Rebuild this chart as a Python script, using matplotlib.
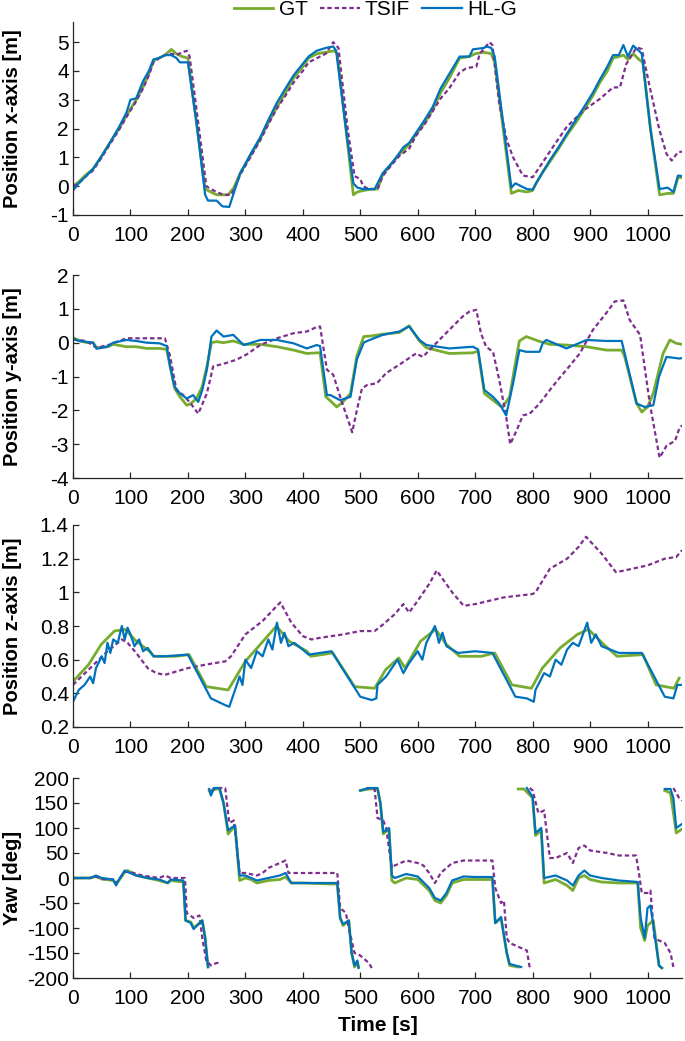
import numpy as np
import matplotlib
matplotlib.use("Agg")
import matplotlib.pyplot as plt
from matplotlib.ticker import FuncFormatter

plt.rcParams['font.family'] = ['Liberation Sans', 'DejaVu Sans']

# time axis
t_max = 1060
x_ticks = list(range(0, 1001, 100))

# ---- position x [m] ----
x_gt = [(0, 0.0), (10, 0.15), (20, 0.35), (35, 0.6), (50, 1.05), (64, 1.5), (80, 2.0), (93, 2.45),
        (110, 3.0), (122, 3.45), (132, 3.9), (140, 4.35), (150, 4.45), (160, 4.55), (171, 4.75),
        (180, 4.6), (190, 4.5), (200, 4.45), (215, 2.2), (230, -0.1), (240, -0.2), (250, -0.3),
        (270, -0.3), (280, -0.05), (291, 0.45), (310, 1.1), (326, 1.65), (340, 2.2), (355, 2.75),
        (370, 3.25), (384, 3.75), (400, 4.15), (410, 4.45), (425, 4.6), (440, 4.65), (455, 4.7),
        (460, 4.6), (475, 2.0), (488, -0.3), (495, -0.2), (505, -0.15), (520, -0.1), (530, -0.1),
        (539, 0.4), (555, 0.8), (568, 1.1), (585, 1.45), (597, 1.8), (612, 2.2), (626, 2.65),
        (640, 3.25), (655, 3.75), (673, 4.45), (690, 4.5), (700, 4.6), (715, 4.65), (728, 4.6),
        (734, 4.3), (750, 1.8), (763, -0.25), (775, -0.15), (790, -0.2), (800, -0.15), (806, 0.1),
        (818, 0.5), (830, 0.85), (845, 1.3), (859, 1.75), (875, 2.2), (888, 2.6), (905, 3.15),
        (917, 3.6), (930, 4.0), (940, 4.45), (950, 4.5), (958, 4.55), (966, 4.4), (975, 4.6),
        (985, 4.4), (992, 4.3), (1005, 2.0), (1021, -0.3), (1035, -0.25), (1045, -0.25),
        (1053, 0.3), (1060, 0.3)]
x_tsif = [(0, 0.0), (10, 0.1), (20, 0.3), (35, 0.55), (50, 1.0), (64, 1.45), (80, 1.95), (93, 2.4),
          (110, 2.95), (122, 3.4), (132, 3.85), (140, 4.3), (150, 4.45), (160, 4.55), (171, 4.6),
          (180, 4.55), (190, 4.65), (198, 4.7), (203, 4.5), (218, 2.2), (232, 0.0), (240, -0.1),
          (250, -0.2), (262, -0.3), (275, -0.3), (282, -0.05), (291, 0.4), (310, 1.05), (326, 1.6),
          (340, 2.15), (355, 2.7), (370, 3.15), (384, 3.6), (400, 4.0), (410, 4.3), (425, 4.45),
          (440, 4.6), (453, 5.0), (462, 4.8), (478, 2.0), (490, 0.35), (500, 0.25), (505, 0.0),
          (515, -0.1), (530, -0.1), (539, 0.35), (555, 0.75), (568, 1.05), (585, 1.3), (597, 1.75),
          (612, 2.15), (626, 2.6), (640, 3.05), (655, 3.4), (673, 3.95), (685, 4.1), (702, 4.15),
          (708, 4.6), (725, 5.0), (730, 4.9), (742, 2.85), (755, 1.6), (766, 1.0), (783, 0.37),
          (800, 0.31), (812, 0.66), (835, 1.35), (859, 2.05), (888, 2.62), (917, 3.03), (940, 3.43),
          (952, 3.43), (963, 4.24), (981, 4.82), (990, 4.76), (1004, 3.43), (1021, 1.93),
          (1033, 1.12), (1042, 0.89), (1053, 1.18), (1060, 1.2)]
x_hlg = [(0, -0.15), (10, 0.1), (20, 0.3), (35, 0.6), (50, 1.05), (64, 1.5), (80, 2.05), (93, 2.55),
         (100, 3.0), (110, 3.05), (122, 3.65), (132, 4.0), (140, 4.4), (150, 4.45), (160, 4.55),
         (171, 4.55), (180, 4.45), (186, 4.3), (200, 4.3), (215, 2.2), (230, -0.3), (235, -0.5),
         (250, -0.5), (260, -0.7), (272, -0.72), (282, -0.1), (291, 0.45), (310, 1.15), (326, 1.7),
         (340, 2.3), (355, 2.9), (370, 3.4), (384, 3.85), (400, 4.25), (410, 4.5), (424, 4.7),
         (440, 4.8), (453, 4.85), (458, 4.7), (475, 2.0), (488, 0.1), (495, -0.05), (505, -0.1),
         (525, -0.1), (539, 0.45), (555, 0.8), (568, 1.15), (575, 1.35), (585, 1.5), (597, 1.85),
         (612, 2.3), (626, 2.75), (640, 3.4), (655, 3.9), (673, 4.5), (690, 4.5), (696, 4.75),
         (715, 4.8), (720, 4.85), (728, 4.8), (734, 4.5), (750, 2.0), (763, -0.05), (770, 0.1),
         (780, 0.0), (790, -0.1), (800, -0.12), (806, 0.1), (818, 0.5), (830, 0.9), (845, 1.35),
         (859, 1.8), (875, 2.3), (888, 2.7), (905, 3.25), (917, 3.7), (930, 4.15), (940, 4.55),
         (950, 4.55), (958, 4.9), (966, 4.5), (975, 4.88), (985, 4.7), (990, 4.6), (1005, 2.0),
         (1021, -0.1), (1035, -0.05), (1045, -0.2), (1053, 0.37), (1060, 0.35)]

# ---- position y [m] ----
y_gt = [(0, 0.15), (12, 0.05), (25, 0.0), (35, 0.0), (41, -0.15), (60, -0.12), (70, -0.05),
        (93, -0.12), (110, -0.12), (128, -0.17), (151, -0.17), (163, -0.2), (169, -0.7),
        (177, -1.35), (186, -1.6), (198, -1.85), (205, -1.8), (215, -1.65), (225, -1.3), (233, -0.7),
        (241, 0.0), (250, 0.03), (262, 0.0), (279, 0.05), (297, -0.05), (326, -0.05), (355, -0.12),
        (384, -0.22), (407, -0.32), (424, -0.3), (430, -0.3), (440, -1.6), (450, -1.75), (459, -1.9),
        (470, -1.75), (483, -1.5), (494, -0.4), (506, 0.18), (520, 0.2), (539, 0.25), (568, 0.3),
        (585, 0.5), (603, 0.05), (615, -0.15), (655, -0.32), (696, -0.3), (705, -0.25), (716, -1.5),
        (731, -1.7), (742, -1.85), (748, -1.9), (760, -1.6), (770, -0.6), (777, 0.05), (789, 0.18),
        (810, 0.05), (830, -0.05), (859, -0.07), (894, -0.12), (928, -0.22), (955, -0.22),
        (960, -0.4), (981, -1.8), (990, -2.05), (1000, -1.9), (1010, -1.5), (1027, -0.32),
        (1039, 0.08), (1050, -0.02), (1060, -0.05)]
y_tsif = [(0, 0.1), (23, 0.05), (41, -0.15), (60, -0.08), (93, 0.13), (128, 0.13), (151, 0.13),
          (160, 0.13), (169, -0.4), (180, -1.4), (192, -1.55), (205, -1.8), (218, -2.1), (233, -1.5),
          (244, -0.7), (256, -0.65), (267, -0.6), (285, -0.5), (302, -0.35), (326, -0.07), (355, 0.13),
          (384, 0.28), (407, 0.33), (424, 0.46), (430, 0.48), (442, -0.8), (453, -0.95), (465, -1.6),
          (477, -2.2), (486, -2.65), (494, -2.0), (503, -1.35), (512, -1.25), (529, -1.2),
          (545, -0.9), (568, -0.65), (597, -0.32), (609, -0.42), (626, -0.12), (655, 0.38),
          (678, 0.77), (690, 0.92), (702, 0.97), (710, 0.28), (719, -0.12), (731, -0.27),
          (742, -1.1), (754, -2.2), (761, -3.0), (772, -2.6), (783, -2.15), (795, -2.1), (812, -1.8),
          (830, -1.4), (844, -1.1), (859, -0.8), (882, -0.32), (905, 0.38), (928, 0.87), (943, 1.22),
          (958, 1.25), (969, 0.67), (987, 0.23), (1004, -1.8), (1021, -3.4), (1033, -3.05),
          (1048, -2.9), (1056, -2.5), (1060, -2.45)]
y_hlg = [(0, 0.1), (12, 0.05), (25, 0.02), (35, 0.0), (41, -0.18), (60, -0.12), (70, 0.0), (93, 0.08),
         (110, 0.05), (128, 0.0), (151, -0.02), (163, -0.1), (169, -0.7), (177, -1.3), (186, -1.5),
         (198, -1.65), (209, -1.55), (218, -1.75), (225, -1.4), (233, -0.8), (241, 0.18), (250, 0.36),
         (262, 0.18), (279, 0.23), (297, -0.07), (326, 0.08), (355, 0.08), (384, -0.02), (407, -0.17),
         (424, -0.07), (430, -0.1), (442, -1.55), (448, -1.55), (465, -1.7), (483, -1.6), (494, -0.5),
         (506, 0.0), (512, 0.05), (539, 0.23), (568, 0.33), (585, 0.48), (603, 0.08), (615, -0.07),
         (655, -0.17), (696, -0.12), (705, -0.2), (716, -1.4), (731, -1.6), (742, -1.8), (754, -2.15),
         (766, -1.2), (777, -0.22), (789, -0.27), (812, -0.27), (818, 0.0), (824, 0.08), (859, -0.17),
         (894, 0.08), (928, 0.05), (955, 0.05), (960, -0.3), (981, -1.8), (995, -1.9), (1010, -1.85),
         (1020, -1.0), (1033, -0.42), (1056, -0.47), (1060, -0.45)]

# ---- position z [m] ----
z_gt = [(0, 0.47), (27, 0.57), (49, 0.69), (72, 0.77), (91, 0.78), (110, 0.71), (133, 0.65),
        (141, 0.62), (179, 0.62), (202, 0.63), (232, 0.44), (270, 0.42), (300, 0.59), (331, 0.71),
        (354, 0.8), (376, 0.71), (407, 0.65), (414, 0.62), (452, 0.64), (490, 0.44), (525, 0.43),
        (544, 0.54), (567, 0.61), (578, 0.55), (605, 0.71), (631, 0.78), (650, 0.69), (673, 0.62),
        (711, 0.62), (734, 0.64), (764, 0.45), (798, 0.43), (817, 0.55), (848, 0.67), (878, 0.75),
        (897, 0.78), (924, 0.69), (947, 0.62), (992, 0.63), (1015, 0.45), (1046, 0.43), (1055, 0.49)]
z_tsif = [(0, 0.45), (30, 0.55), (60, 0.65), (85, 0.72), (95, 0.7), (110, 0.64), (130, 0.55),
          (145, 0.52), (160, 0.51), (200, 0.55), (230, 0.57), (265, 0.59), (275, 0.62), (300, 0.75),
          (330, 0.83), (355, 0.92), (361, 0.94), (380, 0.82), (400, 0.74), (415, 0.72), (430, 0.73),
          (470, 0.75), (500, 0.77), (525, 0.77), (540, 0.81), (560, 0.87), (575, 0.93), (585, 0.88),
          (600, 0.95), (620, 1.05), (633, 1.13), (660, 1.0), (680, 0.92), (700, 0.93), (750, 0.97),
          (800, 0.99), (805, 1.0), (830, 1.14), (860, 1.2), (880, 1.27), (893, 1.33), (920, 1.23),
          (945, 1.12), (960, 1.13), (1000, 1.16), (1030, 1.2), (1050, 1.21), (1060, 1.25)]
z_hlg = [(0, 0.35), (10, 0.42), (20, 0.45), (30, 0.5), (35, 0.46), (40, 0.55), (50, 0.62), (55, 0.58),
         (60, 0.7), (65, 0.64), (70, 0.72), (78, 0.7), (85, 0.8), (90, 0.72), (95, 0.79), (100, 0.75),
         (107, 0.68), (115, 0.72), (122, 0.65), (130, 0.67), (140, 0.62), (160, 0.62), (200, 0.63),
         (240, 0.37), (265, 0.33), (272, 0.32), (290, 0.5), (295, 0.45), (300, 0.6), (310, 0.55),
         (320, 0.65), (330, 0.62), (340, 0.72), (347, 0.66), (355, 0.82), (362, 0.7), (368, 0.76),
         (375, 0.68), (385, 0.7), (400, 0.66), (410, 0.63), (450, 0.65), (500, 0.38), (520, 0.36),
         (528, 0.37), (530, 0.45), (545, 0.5), (555, 0.55), (565, 0.6), (575, 0.52), (585, 0.58),
         (600, 0.65), (608, 0.6), (615, 0.7), (630, 0.8), (637, 0.7), (643, 0.76), (650, 0.68),
         (670, 0.64), (700, 0.65), (730, 0.64), (770, 0.38), (790, 0.37), (802, 0.35), (805, 0.42),
         (820, 0.52), (830, 0.5), (840, 0.6), (850, 0.57), (860, 0.66), (870, 0.7), (880, 0.68),
         (895, 0.82), (902, 0.7), (910, 0.75), (920, 0.68), (935, 0.66), (950, 0.64), (990, 0.64),
         (1030, 0.38), (1045, 0.37), (1052, 0.45), (1060, 0.45)]

# ---- yaw [deg], nan marks the +-180 wrap ----
nan = float('nan')
yaw_gt = [(0, 0), (30, 0), (40, 3), (50, -2), (70, -5), (75, -12), (80, -5), (90, 12), (95, 15),
          (110, 5), (130, 0), (150, -5), (165, -10), (170, -5), (192, -8), (196, -85), (205, -88),
          (210, -100), (225, -85), (230, -120), (235, -178), (nan, nan),
          (237, 175), (240, 168), (245, 178), (255, 178), (262, 150), (270, 88), (275, 95), (282, 103),
          (290, -5), (300, 0), (310, -3), (320, -10), (340, -5), (360, -3), (370, 2), (380, -10),
          (400, -10), (450, -12), (460, -12), (465, -80), (470, -95), (480, -85), (485, -150),
          (490, -178), (495, -170), (497, -178), (nan, nan),
          (500, 175), (515, 178), (530, 178), (535, 150), (540, 88), (550, 98), (555, -5), (560, -10),
          (580, 0), (600, -3), (620, -25), (630, -45), (640, -50), (650, -35), (660, -10), (680, -3),
          (700, -3), (730, -3), (735, -90), (745, -80), (755, -150), (760, -175), (775, -178), (nan, nan),
          (775, 178), (785, 178), (800, 160), (805, 85), (815, 95), (820, -10), (840, -3), (860, -15),
          (870, -25), (880, 0), (890, 5), (900, -3), (920, -8), (950, -10), (983, -10), (988, -100),
          (995, -125), (1000, -95), (1010, -85), (1020, -175), (1025, -180), (nan, nan),
          (1030, 175), (1040, 170), (1050, 90), (1060, 98)]
yaw_tsif = [(0, 0), (30, 0), (40, 3), (50, -2), (70, -3), (75, -10), (80, -3), (90, 12), (100, 12),
            (120, 5), (150, 0), (160, 5), (170, 0), (195, 0), (198, -70), (210, -80), (220, -75),
            (225, -120), (232, -165), (240, -175), (250, -170), (255, -170), (nan, nan),
            (240, 175), (255, 180), (265, 180), (272, 110), (280, 115), (290, 10), (300, 10), (320, 5),
            (330, 10), (340, 20), (350, 25), (370, 35), (375, 10), (400, 10), (430, 10), (460, 10),
            (465, -60), (475, -70), (480, -100), (490, -150), (500, -155), (515, -170), (520, -180),
            (nan, nan),
            (510, 180), (525, 178), (530, 120), (540, 115), (545, 100), (555, 20), (560, 25), (570, 30),
            (580, 35), (600, 30), (610, 25), (620, 10), (630, -10), (640, 10), (650, 20), (660, 30),
            (680, 35), (700, 35), (730, 35), (735, -20), (745, -50), (750, -45), (755, -120),
            (760, -130), (780, -140), (790, -145), (795, -180), (nan, nan),
            (795, 180), (800, 175), (810, 130), (820, 135), (830, 40), (840, 40), (850, 45), (860, 50),
            (870, 30), (880, 60), (890, 65), (900, 55), (930, 50), (950, 45), (980, 45), (985, 10),
            (990, -30), (1000, -30), (1005, -25), (1012, -120), (1020, -125), (1030, -130),
            (1040, -150), (1045, -178), (nan, nan),
            (1045, 180), (1055, 160), (1060, 155)]
yaw_hlg = [(0, 0), (30, 0), (40, 5), (50, 0), (70, -3), (75, -15), (80, -3), (90, 15), (95, 12),
           (110, 5), (130, 0), (150, -3), (165, -10), (170, -3), (192, -5), (196, -85), (205, -90),
           (210, -102), (225, -85), (230, -120), (235, -178), (nan, nan),
           (237, 178), (240, 165), (245, 180), (255, 180), (262, 150), (270, 95), (275, 100), (282, 105),
           (290, 5), (300, 5), (310, 0), (320, -5), (340, 0), (360, 5), (370, 10), (380, -10),
           (400, -10), (450, -10), (460, -10), (465, -80), (470, -92), (480, -85), (485, -150),
           (490, -175), (495, -165), (497, -180), (nan, nan),
           (500, 175), (515, 180), (530, 180), (535, 150), (540, 92), (550, 100), (555, 5), (560, 0),
           (580, 8), (600, 3), (620, -20), (630, -40), (640, -45), (650, -30), (660, -5), (680, 3),
           (700, 2), (730, 2), (735, -90), (745, -78), (755, -150), (760, -172), (770, -175),
           (780, -178), (nan, nan),
           (790, 180), (800, 162), (805, 90), (815, 100), (820, 0), (840, 5), (860, -5), (870, -15),
           (880, 5), (890, 15), (900, 5), (920, 0), (950, -5), (983, -8), (988, -80), (995, -120),
           (1000, -60), (1005, -55), (1012, -110), (1020, -175), (1025, -180), (nan, nan),
           (1030, 178), (1040, 178), (1045, 160), (1050, 100), (1060, 108)]

panels = [
    ("Position x-axis [m]", x_gt, x_tsif, x_hlg, (-1, 5.7), np.arange(-1, 6, 1)),
    ("Position y-axis [m]", y_gt, y_tsif, y_hlg, (-4, 2), np.arange(-4, 3, 1)),
    ("Position z-axis [m]", z_gt, z_tsif, z_hlg, (0.2, 1.4), np.arange(0.2, 1.41, 0.2)),
    ("Yaw [deg]", yaw_gt, yaw_tsif, yaw_hlg, (-200, 200), np.arange(-200, 201, 50)),
]

# axes boxes in pixels (top, bottom) of the 685x1041 figure
W, H = 685, 1041
left_px, right_px = 73, 682
boxes = [(22, 215), (275, 478), (525, 727), (778, 978)]

c_gt = "#77AC30"
c_tsif = "#7E2F8E"
c_hlg = "#0072BD"

fig = plt.figure(figsize=(W / 100, H / 100), dpi=100)
fmt = FuncFormatter(lambda v, p: f"{round(v, 6):g}")

for (label, gt, ts, hl, ylim, yticks), (top, bot) in zip(panels, boxes):
    ax = fig.add_axes([left_px / W, 1 - bot / H, (right_px - left_px) / W, (bot - top) / H])
    g = np.array(gt, dtype=float)
    s = np.array(ts, dtype=float)
    h = np.array(hl, dtype=float)
    ax.plot(g[:, 0], g[:, 1], color=c_gt, lw=2.0, label="GT")
    ax.plot(s[:, 0], s[:, 1], color=c_tsif, lw=1.6, ls=(0, (2, 1.3)), label="TSIF")
    ax.plot(h[:, 0], h[:, 1], color=c_hlg, lw=1.6, label="HL-G")
    ax.set_xlim(0, t_max)
    ax.set_ylim(*ylim)
    ax.set_xticks(x_ticks)
    ax.set_yticks(yticks)
    ax.xaxis.set_major_formatter(fmt)
    ax.yaxis.set_major_formatter(fmt)
    ax.tick_params(direction="in", length=4.5, width=0.9, labelsize=15, colors="#262626",
                   labelcolor="black")
    ax.tick_params(axis="x", pad=8)
    ax.tick_params(axis="y", pad=3)
    for sp in ("top", "right"):
        ax.spines[sp].set_visible(False)
    for sp in ("left", "bottom"):
        ax.spines[sp].set_color("#262626")
        ax.spines[sp].set_linewidth(0.9)
    ax.set_ylabel(label, fontsize=14.5, fontweight="bold")
    ax.yaxis.set_label_coords(-0.083, 0.5)
    if label.startswith("Yaw"):
        ax.set_xlabel("Time [s]", fontsize=15, fontweight="bold", labelpad=6)
    if top == 22:
        handles, labels = ax.get_legend_handles_labels()

fig.legend(handles, labels, loc="upper center", bbox_to_anchor=(0.548, 1.018), ncol=3,
           frameon=False, fontsize=15, handlelength=1.9, handletextpad=0.25, columnspacing=0.6)

fig.savefig("out.png", dpi=100)
